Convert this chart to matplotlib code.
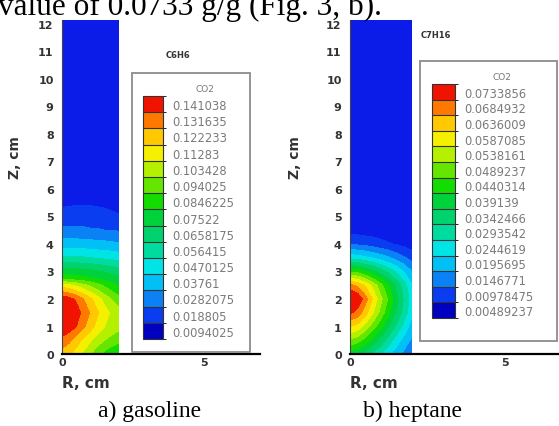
import matplotlib
matplotlib.use('Agg')
import matplotlib.pyplot as plt
import numpy as np
from matplotlib.colors import ListedColormap, BoundaryNorm
from matplotlib.cm import ScalarMappable
from matplotlib.patches import Rectangle

W, H = 559, 427

# ---- data ----
r_grid = [0.0, 0.25, 0.5, 0.75, 1.0, 1.25, 1.5, 1.75, 2.0]

# gasoline (C6H6): CO2 field in units of one contour step
gas_step = 0.0094025
gas_z = [0.0, 0.5, 1.0, 1.5, 2.0, 2.5, 2.75, 3.0, 3.5, 4.0, 4.5, 5.0, 5.5, 6.0, 8.0, 12.2]
gas_field = [
    [12.6, 12.2, 11.5, 10.8, 10.0, 9.3, 8.7, 8.2, 7.8],
    [13.6, 13.2, 12.5, 11.8, 11.1, 10.5, 10.0, 9.6, 9.3],
    [15.0, 14.6, 14.0, 13.2, 12.4, 11.6, 11.0, 10.6, 10.3],
    [15.4, 15.1, 14.5, 13.7, 12.9, 12.1, 11.4, 10.8, 10.4],
    [14.7, 14.4, 13.8, 13.0, 12.2, 11.4, 10.6, 9.9, 9.3],
    [11.5, 11.2, 10.8, 10.3, 9.8, 9.3, 8.8, 8.3, 7.9],
    [8.6, 8.5, 8.4, 8.3, 8.1, 7.9, 7.7, 7.5, 7.3],
    [7.6, 7.5, 7.5, 7.4, 7.3, 7.1, 6.9, 6.7, 6.5],
    [5.2, 5.2, 5.1, 5.1, 5.0, 4.9, 4.8, 4.7, 4.6],
    [3.5, 3.5, 3.5, 3.4, 3.4, 3.3, 3.3, 3.2, 3.1],
    [2.2, 2.2, 2.2, 2.2, 2.1, 2.1, 2.0, 2.0, 1.9],
    [1.4, 1.4, 1.45, 1.45, 1.4, 1.35, 1.3, 1.2, 1.1],
    [0.8, 0.85, 0.9, 0.9, 0.9, 0.85, 0.8, 0.7, 0.6],
    [0.4, 0.4, 0.4, 0.4, 0.4, 0.4, 0.35, 0.3, 0.3],
    [0.1, 0.1, 0.1, 0.1, 0.1, 0.1, 0.1, 0.1, 0.1],
    [0.0, 0.0, 0.0, 0.0, 0.0, 0.0, 0.0, 0.0, 0.0],
]
gas_labels = ['0.0094025', '0.018805', '0.0282075', '0.03761', '0.0470125',
              '0.056415', '0.0658175', '0.07522', '0.0846225', '0.094025',
              '0.103428', '0.11283', '0.122233', '0.131635', '0.141038']

# heptane (C7H16)
hep_step = 0.00489237
hep_z = [0.0, 0.5, 1.0, 1.5, 2.0, 2.5, 3.0, 3.5, 4.0, 4.5, 5.0, 6.0, 8.0, 12.2]
hep_field = [
    [7.5, 7.2, 6.6, 5.8, 5.0, 4.2, 3.4, 2.7, 2.0],
    [9.8, 9.4, 8.6, 7.6, 6.6, 5.5, 4.5, 3.6, 2.8],
    [12.0, 11.6, 10.6, 9.4, 8.2, 7.0, 5.8, 4.6, 3.5],
    [14.2, 13.6, 12.4, 11.0, 9.6, 8.2, 6.8, 5.5, 4.2],
    [15.5, 14.8, 13.4, 11.8, 10.2, 8.8, 7.3, 5.8, 4.5],
    [13.2, 12.8, 11.8, 10.6, 9.3, 8.0, 6.7, 5.4, 4.1],
    [8.8, 8.6, 8.0, 7.3, 6.5, 5.7, 4.8, 3.9, 3.0],
    [4.6, 4.5, 4.2, 3.9, 3.5, 3.1, 2.6, 2.1, 1.6],
    [1.9, 1.8, 1.7, 1.5, 1.3, 1.1, 0.9, 0.7, 0.5],
    [0.6, 0.6, 0.5, 0.5, 0.4, 0.3, 0.3, 0.2, 0.2],
    [0.2, 0.2, 0.2, 0.2, 0.2, 0.1, 0.1, 0.1, 0.1],
    [0.05, 0.05, 0.05, 0.05, 0.05, 0.05, 0.05, 0.05, 0.05],
    [0.0, 0.0, 0.0, 0.0, 0.0, 0.0, 0.0, 0.0, 0.0],
    [0.0, 0.0, 0.0, 0.0, 0.0, 0.0, 0.0, 0.0, 0.0],
]
hep_labels = ['0.00489237', '0.00978475', '0.0146771', '0.0195695', '0.0244619',
              '0.0293542', '0.0342466', '0.039139', '0.0440314', '0.0489237',
              '0.0538161', '0.0587085', '0.0636009', '0.0684932', '0.0733856']

# legend swatches, bottom to top
legend_colors = ['#0000c0', '#0a3cf0', '#0a82f5', '#00c0f5', '#00e4e6',
                 '#00dca0', '#00d26e', '#00d23c', '#14dc00', '#64e600',
                 '#b4f000', '#f5f000', '#ffc800', '#ff7800', '#f01400']
field_colors = ['#0b1be8'] + legend_colors[1:] + [legend_colors[-1]]


def fig_box(x0, y0, x1, y1):
    return [x0 / W, 1 - y1 / H, (x1 - x0) / W, (y1 - y0) / H]


def panel(fig, x0, x1, px_per_cm, z, field, step, labels, title, tpos,
          box, cbar, lab_pad, co2_pos):
    ax = fig.add_axes(fig_box(x0, 21, x1, 355))
    levels = np.r_[-1, np.arange(1, 16), 99] * step
    ax.contourf(r_grid, z, np.array(field) * step, levels=levels,
                colors=field_colors)
    ax.set_xlim(0, (x1 - x0) / px_per_cm)
    ax.set_ylim(0, 334 / 27.5)
    ax.set_yticks(range(13))
    ax.set_xticks([0, 5])
    ax.tick_params(length=0, labelsize=8, colors='#333333')
    ax.tick_params(axis='y', pad=6)
    ax.tick_params(axis='x', pad=2)
    for t in ax.get_xticklabels() + ax.get_yticklabels():
        t.set_fontweight('bold')
    ax.spines['top'].set_visible(False)
    ax.spines['right'].set_visible(False)
    ax.spines['left'].set_linewidth(0.8)
    ax.spines['left'].set_color('#444444')
    ax.spines['bottom'].set_linewidth(1.6)
    ax.set_ylabel('Z, cm', fontsize=10, fontweight='bold', color='#333333')
    ax.yaxis.set_label_coords((lab_pad - x0) / (x1 - x0), 0.59)
    ax.text(0, -0.084, 'R, cm', transform=ax.transAxes, ha='left', va='center',
            fontsize=11, fontweight='bold', color='#333333')

    fig.text(tpos[0] / W, 1 - tpos[1] / H, title, ha='center', va='center',
             fontsize=6, fontweight='bold', color='#333333')

    bx0, by0, bx1, by1 = box
    fig.add_artist(Rectangle((bx0 / W, 1 - by1 / H), (bx1 - bx0) / W,
                             (by1 - by0) / H, transform=fig.transFigure,
                             fill=False, edgecolor='#8c8c8c', lw=1.3))
    fig.text(co2_pos[0] / W, 1 - co2_pos[1] / H, 'CO2', ha='center',
             va='center', fontsize=6.5, color='#777777')

    cax = fig.add_axes(fig_box(*cbar))
    sm = ScalarMappable(norm=BoundaryNorm(np.arange(16), 15),
                        cmap=ListedColormap(legend_colors))
    cb = fig.colorbar(sm, cax=cax, drawedges=True)
    cb.outline.set_edgecolor('#333333')
    cb.outline.set_linewidth(0.8)
    cb.dividers.set_color('#333333')
    cb.dividers.set_linewidth(0.8)
    cb.set_ticks(np.arange(15) + 0.5)
    cb.set_ticklabels(labels)
    cax.tick_params(length=0, pad=7, labelsize=8.3, colors='#7a7a7a')
    return ax


fig = plt.figure(figsize=(W / 100, H / 100), dpi=100)

panel(fig, 62, 260, 28.5, gas_z, gas_field, gas_step, gas_labels, 'C6H6',
      (178, 56), (132, 74, 250, 353), (143, 97, 163, 340), 22, (205, 90))
panel(fig, 350, 559, 31.0, hep_z, hep_field, hep_step, hep_labels, 'C7H16',
      (436, 35), (420, 62, 557, 342), (432, 85, 455, 319), 302, (502, 78))

fig.text(-2 / W, 1 - 15 / H, 'value of 0.0733 g/g (Fig. 3, b).',
         ha='left', va='baseline', fontsize=22.5, family='Liberation Serif')
fig.text(150 / W, 1 - 417 / H, 'a) gasoline', ha='center', va='baseline',
         fontsize=17, family='Liberation Serif')
fig.text(412 / W, 1 - 417 / H, 'b) heptane', ha='center', va='baseline',
         fontsize=17, family='Liberation Serif')

fig.savefig('out.png', dpi=100)
